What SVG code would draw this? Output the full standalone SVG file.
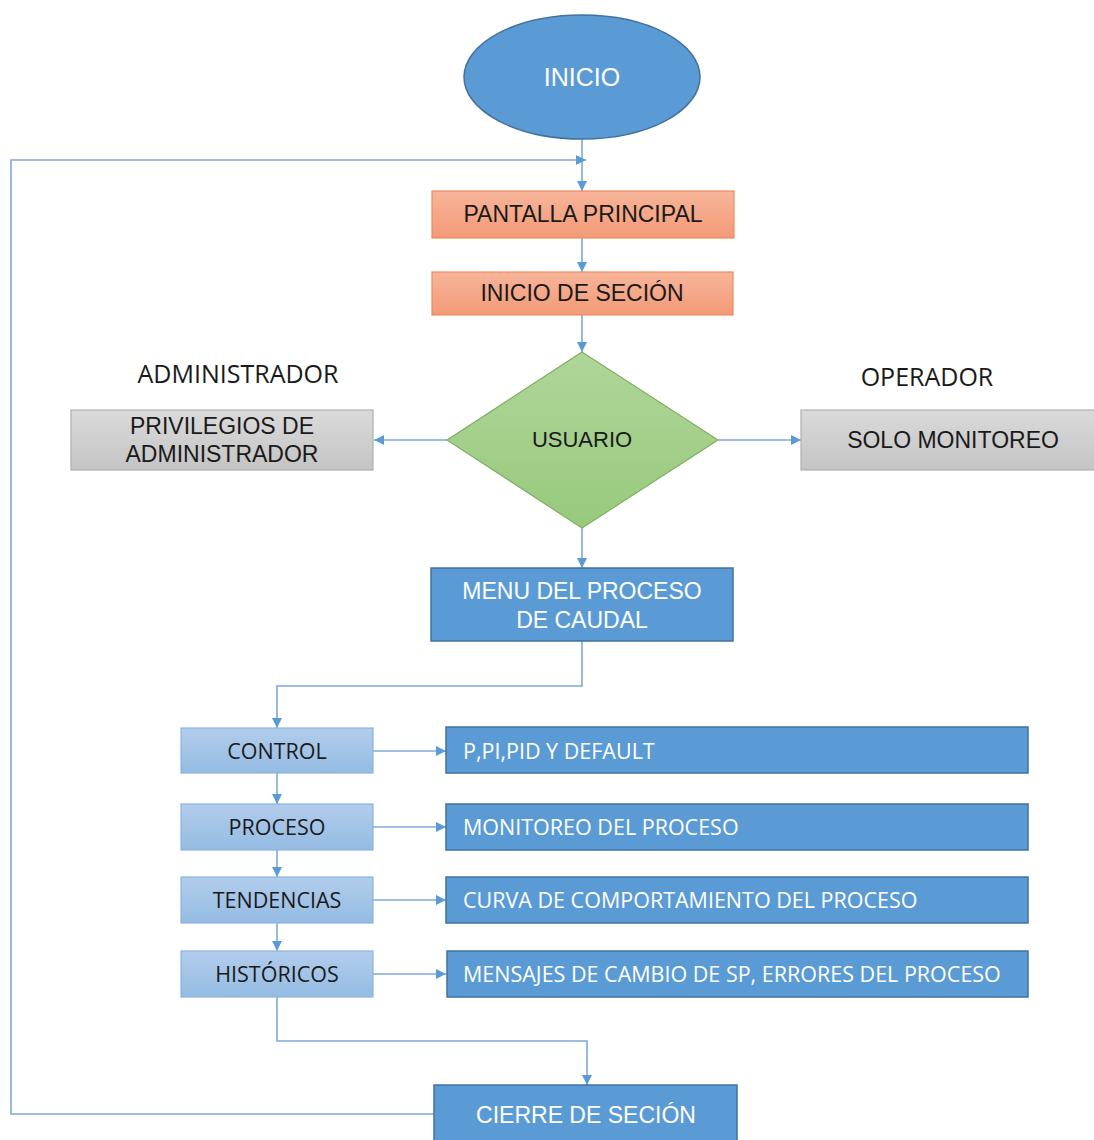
<svg xmlns="http://www.w3.org/2000/svg" width="1094" height="1140" viewBox="0 0 1094 1140">
  <defs>
    <marker id="arrow" viewBox="0 0 10 10" refX="10" refY="5" markerWidth="10" markerHeight="10" markerUnits="userSpaceOnUse" orient="auto">
      <path d="M0,0 L10,5 L0,10 Z" fill="#5B9BD5"/>
    </marker>
    <linearGradient id="gSalmon" x1="0" y1="0" x2="0" y2="1">
      <stop offset="0" stop-color="#F7B59A"/>
      <stop offset="1" stop-color="#F39A77"/>
    </linearGradient>
    <linearGradient id="gGray" x1="0" y1="0" x2="0" y2="1">
      <stop offset="0" stop-color="#DADADA"/>
      <stop offset="1" stop-color="#C4C4C4"/>
    </linearGradient>
    <linearGradient id="gGreen" x1="0" y1="0" x2="0" y2="1">
      <stop offset="0" stop-color="#B0D69A"/>
      <stop offset="1" stop-color="#97C97C"/>
    </linearGradient>
    <linearGradient id="gLight" x1="0" y1="0" x2="0" y2="1">
      <stop offset="0" stop-color="#B2CDEC"/>
      <stop offset="1" stop-color="#94BBE3"/>
    </linearGradient>
  </defs>
  <style>
    .conn { fill: none; stroke: #7EA9D8; stroke-width: 1.6; }
    .salmon { fill: url(#gSalmon); stroke: #ED8B5E; stroke-width: 1.2; }
    .gray { fill: url(#gGray); stroke: #AFAFAF; stroke-width: 1.2; }
    .blue { fill: #5B9BD5; stroke: #41719C; stroke-width: 1.5; }
    .light { fill: url(#gLight); stroke: #8DB3DF; stroke-width: 1.2; }
    .arial { font-family: "Liberation Sans", Arial, sans-serif; font-size: 23px; text-anchor: middle; }
    .cal { font-family: "Open Sans", "Liberation Sans", sans-serif; font-size: 21.5px; }
    .caption { font-family: "Open Sans", "Liberation Sans", sans-serif; font-size: 25px; text-anchor: middle; }
    .mid { text-anchor: middle; }
    .dark { fill: #1A1A1A; }
    .white { fill: #FFFFFF; }
  </style>
  <rect width="1094" height="1140" fill="#FFFFFF"/>

  <!-- connectors -->
  <g id="connectors">
    <line class="conn" x1="582" y1="139" x2="582" y2="191" marker-end="url(#arrow)"/>
    <polyline class="conn" points="434,1114 11,1114 11,160 586,160" marker-end="url(#arrow)"/>
    <line class="conn" x1="582" y1="238" x2="582" y2="272" marker-end="url(#arrow)"/>
    <line class="conn" x1="582" y1="315" x2="582" y2="352" marker-end="url(#arrow)"/>
    <line class="conn" x1="447" y1="440" x2="374" y2="440" marker-end="url(#arrow)"/>
    <line class="conn" x1="718" y1="440" x2="801" y2="440" marker-end="url(#arrow)"/>
    <line class="conn" x1="582" y1="528" x2="582" y2="568" marker-end="url(#arrow)"/>
    <polyline class="conn" points="582,641 582,686 277,686 277,728" marker-end="url(#arrow)"/>
    <line class="conn" x1="277" y1="773" x2="277" y2="804" marker-end="url(#arrow)"/>
    <line class="conn" x1="277" y1="850" x2="277" y2="877" marker-end="url(#arrow)"/>
    <line class="conn" x1="277" y1="923" x2="277" y2="951" marker-end="url(#arrow)"/>
    <line class="conn" x1="373" y1="751" x2="446" y2="751" marker-end="url(#arrow)"/>
    <line class="conn" x1="373" y1="827" x2="446" y2="827" marker-end="url(#arrow)"/>
    <line class="conn" x1="373" y1="900" x2="446" y2="900" marker-end="url(#arrow)"/>
    <line class="conn" x1="373" y1="974" x2="446" y2="974" marker-end="url(#arrow)"/>
    <polyline class="conn" points="277,997 277,1041 587,1041 587,1085" marker-end="url(#arrow)"/>
  </g>

  <!-- start terminal -->
  <g id="inicio">
    <ellipse cx="582" cy="77" rx="118" ry="62" fill="#5B9BD5" stroke="#41719C" stroke-width="1.5"/>
    <text class="arial white" x="582" y="86" style="font-size:25px">INICIO</text>
  </g>

  <g id="pantalla-principal">
    <rect class="salmon" x="432" y="191" width="302" height="47"/>
    <text class="arial dark" x="583" y="222">PANTALLA PRINCIPAL</text>
  </g>

  <g id="inicio-sesion">
    <rect class="salmon" x="432" y="272" width="301" height="43"/>
    <text class="arial dark" x="582" y="301">INICIO DE SECIÓN</text>
  </g>

  <g id="usuario">
    <polygon points="582,352 718,440 582,528 447,440" fill="url(#gGreen)" stroke="#7FB061" stroke-width="1.2"/>
    <text class="arial dark" x="582" y="447" style="font-size:22px">USUARIO</text>
  </g>

  <!-- role captions -->
  <text class="caption dark" x="238" y="383">ADMINISTRADOR</text>
  <text class="caption dark" x="927" y="386">OPERADOR</text>

  <g id="privilegios">
    <rect class="gray" x="71" y="410" width="302" height="60"/>
    <text class="arial dark" x="222" y="434">PRIVILEGIOS DE</text>
    <text class="arial dark" x="222" y="462">ADMINISTRADOR</text>
  </g>

  <g id="solo-monitoreo">
    <rect class="gray" x="801" y="410" width="300" height="60"/>
    <text class="arial dark" x="953" y="448">SOLO MONITOREO</text>
  </g>

  <g id="menu-proceso">
    <rect class="blue" x="431" y="568" width="302" height="73"/>
    <text class="arial white" x="582" y="599">MENU DEL PROCESO</text>
    <text class="arial white" x="582" y="628">DE CAUDAL</text>
  </g>

  <g id="control">
    <rect class="light" x="181" y="728" width="192" height="45"/>
    <text class="cal dark mid" x="277" y="759">CONTROL</text>
  </g>
  <g id="pid">
    <rect class="blue" x="446" y="727" width="582" height="46"/>
    <text class="cal white" x="463" y="759">P,PI,PID Y DEFAULT</text>
  </g>

  <g id="proceso">
    <rect class="light" x="181" y="804" width="192" height="46"/>
    <text class="cal dark mid" x="277" y="835">PROCESO</text>
  </g>
  <g id="monitoreo-proceso">
    <rect class="blue" x="446" y="804" width="582" height="46"/>
    <text class="cal white" x="463" y="835">MONITOREO DEL PROCESO</text>
  </g>

  <g id="tendencias">
    <rect class="light" x="181" y="877" width="192" height="46"/>
    <text class="cal dark mid" x="277" y="908">TENDENCIAS</text>
  </g>
  <g id="curva">
    <rect class="blue" x="446" y="877" width="582" height="46"/>
    <text class="cal white" x="463" y="908">CURVA DE COMPORTAMIENTO DEL PROCESO</text>
  </g>

  <g id="historicos">
    <rect class="light" x="181" y="951" width="192" height="46"/>
    <text class="cal dark mid" x="277" y="982">HISTÓRICOS</text>
  </g>
  <g id="mensajes">
    <rect class="blue" x="447" y="951" width="581" height="46"/>
    <text class="cal white" x="463" y="982">MENSAJES DE CAMBIO DE SP, ERRORES DEL PROCESO</text>
  </g>

  <g id="cierre-sesion">
    <rect class="blue" x="434" y="1085" width="303" height="60"/>
    <text class="arial white" x="586" y="1123">CIERRE DE SECIÓN</text>
  </g>
</svg>
